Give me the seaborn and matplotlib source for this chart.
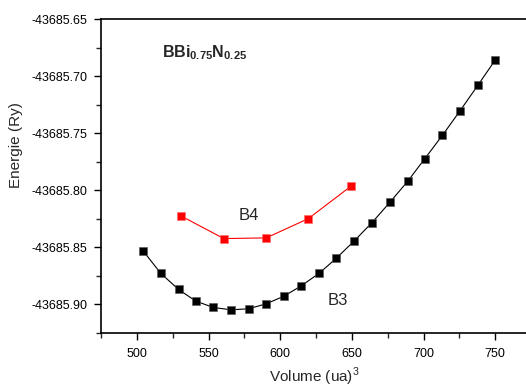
import matplotlib
matplotlib.use("Agg")
import matplotlib.pyplot as plt
import seaborn as sns
import pandas as pd
from matplotlib.ticker import MultipleLocator, FormatStrFormatter

# Data
b3_volume = [504.2, 516.6, 529.1, 541.2, 553.3, 565.6, 578.0, 590.3, 602.6, 614.7,
             627.3, 639.2, 651.7, 664.1, 676.5, 689.0, 700.9, 713.2, 725.6, 737.9, 750.2]
b3_energy = [-43685.8528, -43685.8726, -43685.8869, -43685.8971, -43685.9026,
             -43685.9047, -43685.9038, -43685.8994, -43685.8928, -43685.8837,
             -43685.8726, -43685.8595, -43685.8443, -43685.8283, -43685.8106,
             -43685.7921, -43685.7723, -43685.7519, -43685.7302, -43685.7081,
             -43685.6856]
b4_volume = [531.1, 560.7, 590.3, 619.7, 649.3]
b4_energy = [-43685.8227, -43685.8423, -43685.8417, -43685.8248, -43685.7965]

sns.set_style("ticks")
plt.rcParams['font.family'] = ['Liberation Sans', 'DejaVu Sans']
plt.rcParams['axes.unicode_minus'] = False
plt.rcParams['mathtext.fontset'] = 'custom'
plt.rcParams['mathtext.rm'] = 'Liberation Sans'
plt.rcParams['mathtext.bf'] = 'Liberation Sans:bold'

fig = plt.figure(figsize=(5.26, 3.88), dpi=100)
ax = fig.add_axes([101/526, 1-333/388, 430/526, (333-19)/388])

df3 = pd.DataFrame({"Volume": b3_volume, "Energie": b3_energy})
df4 = pd.DataFrame({"Volume": b4_volume, "Energie": b4_energy})

sns.lineplot(data=df3, x="Volume", y="Energie", ax=ax, color="black", lw=0.8,
             marker="s", markersize=5.5, markeredgecolor="#555555", markeredgewidth=0.4)
sns.lineplot(data=df4, x="Volume", y="Energie", ax=ax, color="red", lw=0.8,
             marker="s", markersize=5.5, markeredgecolor="#ff6666", markeredgewidth=0.4)

ax.set_xlim(475, 775)
ax.set_ylim(-43685.925, -43685.65)
ax.xaxis.set_major_locator(MultipleLocator(50))
ax.xaxis.set_minor_locator(MultipleLocator(25))
ax.yaxis.set_major_locator(MultipleLocator(0.05))
ax.yaxis.set_minor_locator(MultipleLocator(0.025))
ax.yaxis.set_major_formatter(FormatStrFormatter('%.2f'))
ax.tick_params(which='major', direction='out', length=5, width=1, labelsize=9, colors='black')
ax.tick_params(which='minor', direction='out', length=3.5, width=1)
ax.tick_params(axis='x', pad=6)
ax.tick_params(axis='y', pad=5)

for s in ['left', 'bottom', 'top']:
    ax.spines[s].set_visible(True)
    ax.spines[s].set_color('black')
    ax.spines[s].set_linewidth(1.2)
ax.spines['right'].set_visible(False)

ax.set_xlabel("Volume (ua)$^3$", fontsize=11)
ax.set_ylabel("Energie (Ry)", fontsize=11)
ax.xaxis.set_label_coords((314-101)/430, -(377-333)/314, transform=ax.transAxes)
ax.xaxis.label.set_va('center')
ax.yaxis.set_label_coords(-(101-16)/430, (333-145)/314, transform=ax.transAxes)
ax.yaxis.label.set_va('center')

ax.text(517.6, -43685.6839, r"$\mathbf{BBi_{0.75}N_{0.25}}$", fontsize=11.5,
        ha='left', va='baseline')
ax.text(571.0, -43685.8221, "B4", fontsize=12, ha='left', va='center')
ax.text(633.4, -43685.8965, "B3", fontsize=12, ha='left', va='center')

fig.savefig("out.png", dpi=100)
